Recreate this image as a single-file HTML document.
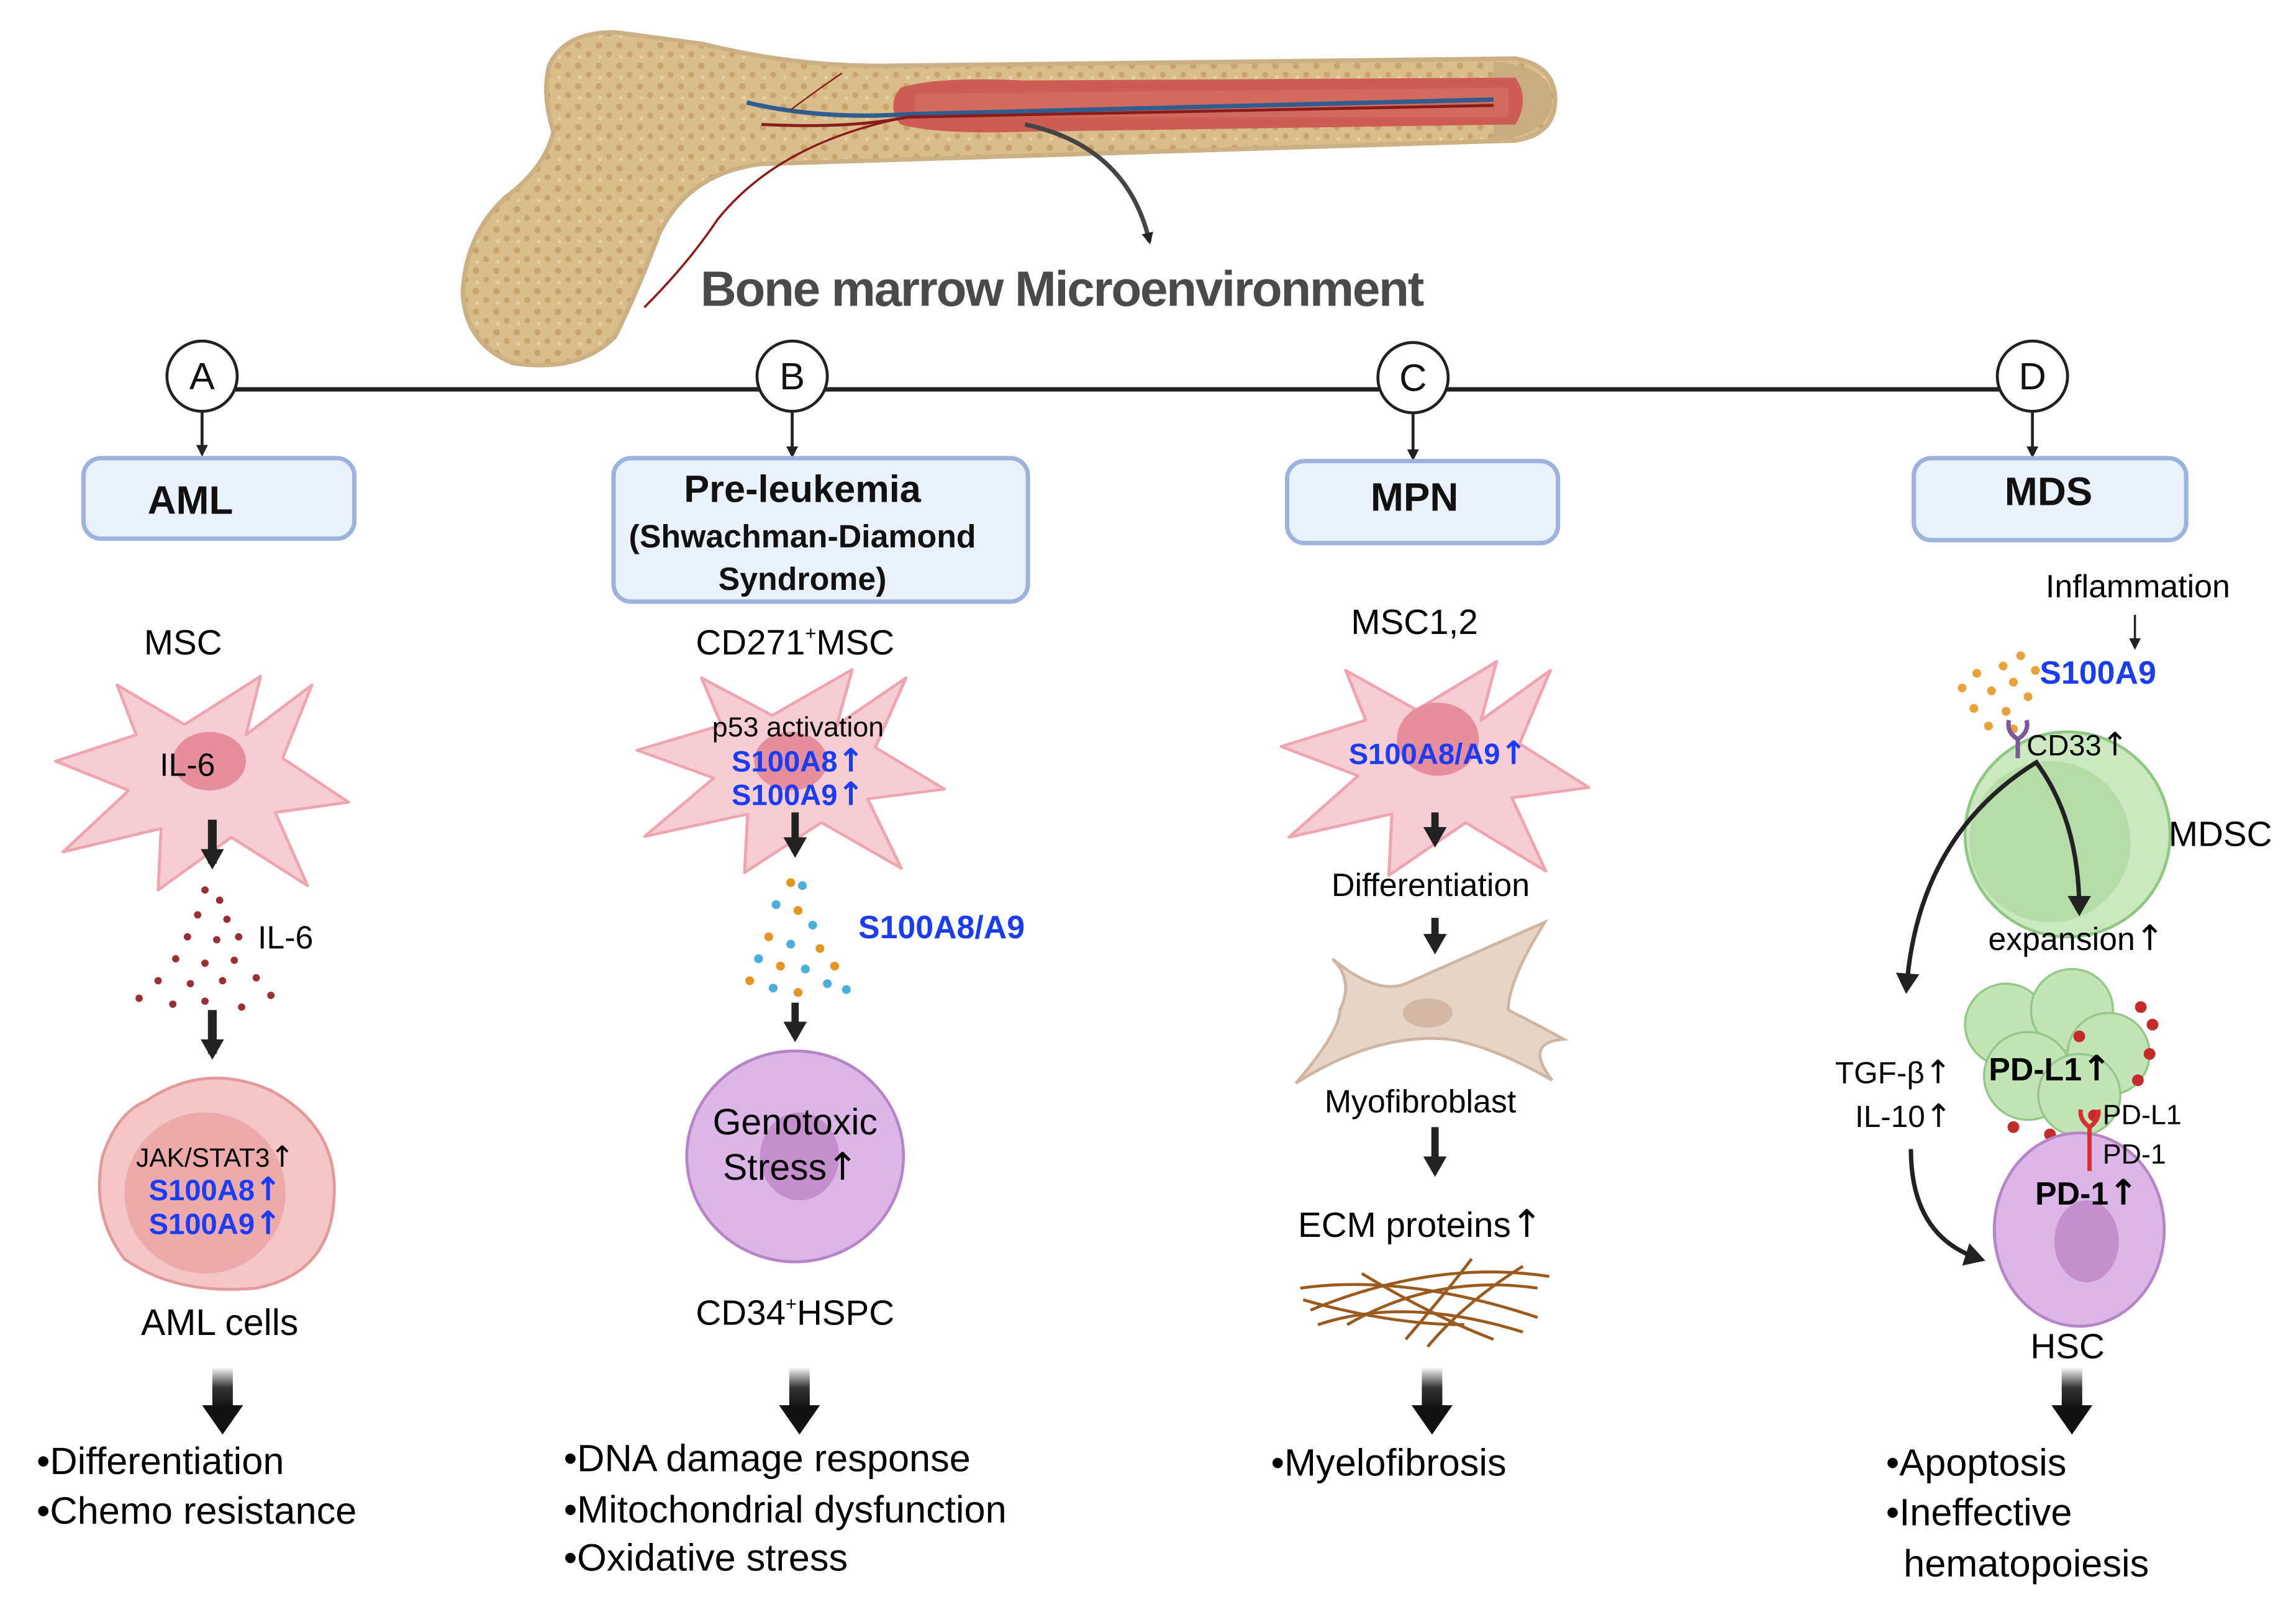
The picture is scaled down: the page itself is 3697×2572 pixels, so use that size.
<!DOCTYPE html>
<html><head><meta charset="utf-8"><style>
html,body{margin:0;padding:0;background:#fff;}
svg{display:block;}
text{font-family:"Liberation Sans",sans-serif;}
.u{font-family:"DejaVu Sans",sans-serif;}
</style></head><body>
<svg width="3697" height="2572" viewBox="0 0 1568 1091" preserveAspectRatio="none" xmlns="http://www.w3.org/2000/svg">
<defs>
<marker id="ah" markerWidth="8" markerHeight="8" refX="6" refY="4" orient="auto" markerUnits="userSpaceOnUse"><path d="M0,0 L8,4 L0,8 z" fill="#222"/></marker>
<marker id="ah2" markerWidth="16" markerHeight="16" refX="10" refY="8" orient="auto" markerUnits="userSpaceOnUse"><path d="M0,0 L14,8 L0,16 z" fill="#222"/></marker>
<linearGradient id="bg" x1="0" y1="0" x2="0" y2="1"><stop offset="0" stop-color="#fff"/><stop offset="0.5" stop-color="#333"/><stop offset="1" stop-color="#111"/></linearGradient>
<pattern id="tex" width="14" height="14" patternUnits="userSpaceOnUse"><rect width="14" height="14" fill="#d9bd8a"/><circle cx="3" cy="3" r="2.2" fill="#c9a26c"/><circle cx="10" cy="9" r="2" fill="#c9a26c"/><circle cx="4" cy="11" r="1.3" fill="#e6d0a6"/></pattern>
<g id="star"><path d="M-100,-10 L-45,-28 L-58,-62 L-12,-35 L40,-68 L30,-28 L75,-62 L55,-12 L100,18 L50,25 L72,75 L20,42 L-30,78 L-28,36 L-95,52 L-50,10 Z" fill="#f6cdd3" stroke="#eea5b0" stroke-width="2" stroke-linejoin="round"/></g>
<g id="big"><rect x="-7" y="0" width="14" height="28" fill="url(#bg)"/><path d="M-14,26 L14,26 L0,46 Z" fill="#111"/></g>
</defs>

<!-- Bone -->
<path d="M375,45 Q385,22 420,22 L480,30 Q540,45 600,45 L1035,40 Q1062,45 1062,68 Q1062,92 1035,96 L520,112 Q470,118 450,160 Q435,200 420,230 Q395,255 350,248 Q318,235 316,200 Q318,160 345,135 Q372,115 378,90 Q370,65 375,45 Z" fill="url(#tex)" stroke="#cbb083" stroke-width="3"/>
<path d="M1020,42 Q1060,45 1060,68 Q1060,92 1020,96 Z" fill="#c9ad80"/>
<path d="M615,60 Q640,52 700,55 L1035,53 Q1045,68 1035,85 L700,90 Q640,92 615,85 Q605,72 615,60 Z" fill="#cd5d52"/>
<path d="M625,64 L1030,60 L1030,80 L625,80 Z" fill="#d8776a" opacity="0.5"/>
<path d="M510,70 Q560,82 620,78 L1020,68" stroke="#2f5d8f" stroke-width="3" fill="none"/>
<path d="M520,85 Q580,88 620,80 L1020,72" stroke="#8b1a1a" stroke-width="2" fill="none"/>
<path d="M610,82 Q530,100 490,150 Q470,180 440,210" stroke="#8b1a1a" stroke-width="1.5" fill="none"/>
<path d="M540,75 Q560,60 575,50" stroke="#8b1a1a" stroke-width="1" fill="none"/>
<path d="M700,85 Q770,100 785,165" stroke="#444" stroke-width="3" fill="none" marker-end="url(#ah)"/>
<text x="725" y="209" font-size="34" font-weight="bold" fill="#4a4a4a" text-anchor="middle" letter-spacing="-1">Bone marrow Microenvironment</text>

<!-- timeline -->
<line x1="138" y1="266" x2="1388" y2="266" stroke="#222" stroke-width="3"/>
<g stroke="#222" stroke-width="2" fill="#fff">
<circle cx="138" cy="257" r="24"/><circle cx="541" cy="257" r="24"/><circle cx="965" cy="258" r="24"/><circle cx="1388" cy="257" r="24"/>
</g>
<g font-size="26" text-anchor="middle" fill="#111">
<text x="138" y="266">A</text><text x="541" y="266">B</text><text x="965" y="267">C</text><text x="1388" y="266">D</text>
</g>
<g stroke="#222" stroke-width="2" marker-end="url(#ah)">
<line x1="138" y1="281" x2="138" y2="310"/><line x1="541" y1="281" x2="541" y2="311"/><line x1="965" y1="282" x2="965" y2="313"/><line x1="1388" y1="281" x2="1388" y2="311"/>
</g>
<g fill="#e9f1fb" stroke="#9db3dd" stroke-width="3">
<rect x="57" y="313" width="185" height="55" rx="12"/>
<rect x="419" y="313" width="283" height="98" rx="12"/>
<rect x="879" y="315" width="185" height="56" rx="12"/>
<rect x="1307" y="313" width="186" height="56" rx="12"/>
</g>
<g font-weight="bold" text-anchor="middle" fill="#111">
<text x="130" y="351" font-size="27">AML</text>
<text x="548" y="343" font-size="26">Pre-leukemia</text>
<text x="548" y="374" font-size="22">(Shwachman-Diamond</text>
<text x="548" y="403" font-size="22">Syndrome)</text>
<text x="966" y="349" font-size="27">MPN</text>
<text x="1399" y="345" font-size="27">MDS</text>
</g>

<!-- Column A -->
<text x="125" y="447" font-size="24" text-anchor="middle">MSC</text>
<use href="#star" transform="translate(138,530)"/>
<ellipse cx="143" cy="520" rx="25" ry="20" fill="#e68e9b"/>
<text x="128" y="530" font-size="22" text-anchor="middle">IL-6</text>
<line x1="145" y1="560" x2="145" y2="590" stroke="#222" stroke-width="6" marker-end="url(#ah2)"/>
<g fill="#9b2f35">
<circle cx="140" cy="608" r="2.5"/><circle cx="150" cy="615" r="2.5"/><circle cx="135" cy="625" r="2.5"/><circle cx="155" cy="628" r="2.5"/><circle cx="128" cy="640" r="2.5"/><circle cx="148" cy="642" r="2.5"/><circle cx="163" cy="640" r="2.5"/><circle cx="120" cy="655" r="2.5"/><circle cx="140" cy="658" r="2.5"/><circle cx="160" cy="656" r="2.5"/><circle cx="108" cy="670" r="2.5"/><circle cx="130" cy="672" r="2.5"/><circle cx="152" cy="670" r="2.5"/><circle cx="175" cy="668" r="2.5"/><circle cx="95" cy="682" r="2.5"/><circle cx="118" cy="686" r="2.5"/><circle cx="140" cy="684" r="2.5"/><circle cx="165" cy="688" r="2.5"/><circle cx="185" cy="680" r="2.5"/>
</g>
<text x="176" y="648" font-size="22">IL-6</text>
<line x1="145" y1="690" x2="145" y2="720" stroke="#222" stroke-width="6" marker-end="url(#ah2)"/>
<path d="M100,752 Q140,725 185,745 Q232,770 228,820 Q225,870 175,880 Q120,885 85,860 Q62,830 70,790 Q80,760 100,752 Z" fill="#f5c6c6" stroke="#e39a9a" stroke-width="2"/>
<ellipse cx="140" cy="815" rx="55" ry="55" fill="#eba3a3" opacity="0.8"/>
<text x="147" y="797" font-size="18" text-anchor="middle">JAK/STAT3<tspan class="u" font-size="20">↑</tspan></text>
<text x="147" y="820" font-size="20" font-weight="bold" fill="#1a3cf5" text-anchor="middle">S100A8<tspan class="u" font-size="22">↑</tspan></text>
<text x="147" y="843" font-size="20" font-weight="bold" fill="#1a3cf5" text-anchor="middle">S100A9<tspan class="u" font-size="22">↑</tspan></text>
<text x="150" y="912" font-size="25" text-anchor="middle">AML cells</text>
<use href="#big" transform="translate(152,934)"/>
<text x="25" y="1007" font-size="26">•Differentiation</text>
<text x="25" y="1041" font-size="26">•Chemo resistance</text>

<!-- Column B -->
<text x="543" y="447" font-size="24" text-anchor="middle">CD271<tspan font-size="13" dy="-10">+</tspan><tspan dy="10">MSC</tspan></text>
<use href="#star" transform="translate(540,522) scale(1.05,0.95)"/>
<ellipse cx="540" cy="520" rx="25" ry="20" fill="#e68e9b"/>
<text x="545" y="503" font-size="19" text-anchor="middle">p53 activation</text>
<text x="545" y="527" font-size="20" font-weight="bold" fill="#1a3cf5" text-anchor="middle">S100A8<tspan class="u" font-size="22">↑</tspan></text>
<text x="545" y="550" font-size="20" font-weight="bold" fill="#1a3cf5" text-anchor="middle">S100A9<tspan class="u" font-size="22">↑</tspan></text>
<line x1="543" y1="555" x2="543" y2="582" stroke="#222" stroke-width="5" marker-end="url(#ah2)"/>
<g>
<circle cx="540" cy="603" r="3" fill="#e69520"/><circle cx="548" cy="605" r="3" fill="#4ab0d9"/><circle cx="530" cy="618" r="3" fill="#4ab0d9"/><circle cx="545" cy="622" r="3" fill="#e69520"/><circle cx="555" cy="632" r="3" fill="#4ab0d9"/><circle cx="525" cy="640" r="3" fill="#e69520"/><circle cx="540" cy="645" r="3" fill="#4ab0d9"/><circle cx="560" cy="648" r="3" fill="#e69520"/><circle cx="518" cy="655" r="3" fill="#4ab0d9"/><circle cx="533" cy="660" r="3" fill="#e69520"/><circle cx="550" cy="662" r="3" fill="#4ab0d9"/><circle cx="570" cy="660" r="3" fill="#e69520"/><circle cx="512" cy="670" r="3" fill="#e69520"/><circle cx="528" cy="675" r="3" fill="#4ab0d9"/><circle cx="545" cy="678" r="3" fill="#e69520"/><circle cx="565" cy="672" r="3" fill="#4ab0d9"/><circle cx="578" cy="676" r="3" fill="#4ab0d9"/>
</g>
<text x="643" y="641" font-size="22" font-weight="bold" fill="#1a3cf5" text-anchor="middle">S100A8/A9</text>
<line x1="543" y1="685" x2="543" y2="708" stroke="#222" stroke-width="5" marker-end="url(#ah2)"/>
<ellipse cx="543" cy="790" rx="74" ry="72" fill="#dcb6e6" stroke="#b784c7" stroke-width="2"/>
<ellipse cx="546" cy="790" rx="27" ry="30" fill="#c58fce"/>
<text x="543" y="775" font-size="25" text-anchor="middle">Genotoxic</text>
<text x="540" y="806" font-size="25" text-anchor="middle">Stress<tspan class="u" font-size="26">↑</tspan></text>
<text x="543" y="905" font-size="24" text-anchor="middle">CD34<tspan font-size="13" dy="-10">+</tspan><tspan dy="10">HSPC</tspan></text>
<use href="#big" transform="translate(546,934)"/>
<text x="385" y="1005" font-size="26">•DNA damage response</text>
<text x="385" y="1040" font-size="26">•Mitochondrial dysfunction</text>
<text x="385" y="1073" font-size="26">•Oxidative stress</text>

<!-- Column C -->
<text x="966" y="433" font-size="24" text-anchor="middle">MSC1,2</text>
<use href="#star" transform="translate(980,520) scale(1.05,1)"/>
<ellipse cx="982" cy="505" rx="28" ry="25" fill="#e68e9b"/>
<text x="982" y="522" font-size="20" font-weight="bold" fill="#1a3cf5" text-anchor="middle">S100A8/A9<tspan class="u" font-size="22">↑</tspan></text>
<line x1="980" y1="555" x2="980" y2="575" stroke="#222" stroke-width="5" marker-end="url(#ah2)"/>
<text x="977" y="612" font-size="22" text-anchor="middle">Differentiation</text>
<line x1="980" y1="627" x2="980" y2="648" stroke="#222" stroke-width="5" marker-end="url(#ah2)"/>
<path d="M910,655 Q940,680 960,672 Q1010,650 1055,630 Q1030,670 1030,690 Q1050,700 1068,710 Q1040,712 1060,738 Q1020,715 990,710 Q940,705 885,740 Q915,705 915,690 Q925,670 910,655 Z" fill="#e7d5c8" stroke="#cfb5a2" stroke-width="2"/>
<ellipse cx="975" cy="692" rx="17" ry="10" fill="#d4b8a6"/>
<text x="970" y="760" font-size="22" text-anchor="middle">Myofibroblast</text>
<line x1="980" y1="770" x2="980" y2="800" stroke="#222" stroke-width="5" marker-end="url(#ah2)"/>
<text x="970" y="845" font-size="24" text-anchor="middle">ECM proteins<tspan class="u" font-size="26">↑</tspan></text>
<g stroke="#9a5a1e" stroke-width="2" fill="none">
<path d="M888,880 Q960,870 1050,900"/><path d="M895,895 Q980,860 1058,872"/><path d="M900,905 Q960,885 1040,910"/><path d="M960,915 Q990,880 1005,860"/><path d="M930,870 Q980,900 1020,915"/><path d="M890,888 Q950,905 1000,905"/><path d="M920,905 Q980,870 1050,880"/><path d="M975,920 Q1000,890 1040,865"/>
</g>
<use href="#big" transform="translate(978,934)"/>
<text x="868" y="1008" font-size="26">•Myelofibrosis</text>

<!-- Column D -->
<text x="1460" y="408" font-size="22" text-anchor="middle">Inflammation</text>
<line x1="1458" y1="420" x2="1458" y2="442" stroke="#222" stroke-width="1.5" marker-end="url(#ah)"/>
<g fill="#e8a23a">
<circle cx="1380" cy="448" r="3"/><circle cx="1368" cy="455" r="3"/><circle cx="1390" cy="458" r="3"/><circle cx="1350" cy="460" r="3"/><circle cx="1375" cy="466" r="3"/><circle cx="1340" cy="470" r="3"/><circle cx="1360" cy="472" r="3"/><circle cx="1385" cy="476" r="3"/><circle cx="1348" cy="484" r="3"/><circle cx="1370" cy="486" r="3"/><circle cx="1358" cy="496" r="3"/><circle cx="1375" cy="498" r="3"/>
</g>
<text x="1393" y="467" font-size="22" font-weight="bold" fill="#1a3cf5">S100A9</text>
<circle cx="1412" cy="570" r="70" fill="#cbe8c0" stroke="#8fc882" stroke-width="2"/>
<ellipse cx="1400" cy="575" rx="55" ry="55" fill="#b6dca8"/>
<path d="M1378,518 L1378,505 M1378,505 Q1370,500 1372,492 M1378,505 Q1386,500 1384,492" stroke="#7a5a9a" stroke-width="3" fill="none"/>
<text x="1384" y="516" font-size="20">CD33<tspan class="u" font-size="22">↑</tspan></text>
<text x="1481" y="578" font-size="24">MDSC</text>
<path d="M1392,520 Q1310,570 1302,675" stroke="#222" stroke-width="3" fill="none" marker-end="url(#ah2)"/>
<path d="M1390,520 Q1420,560 1420,622" stroke="#222" stroke-width="3" fill="none" marker-end="url(#ah2)"/>
<text x="1418" y="649" font-size="22" text-anchor="middle">expansion<tspan class="u" font-size="24">↑</tspan></text>
<g fill="#c3e4b7" stroke="#94c887" stroke-width="1.5">
<circle cx="1370" cy="700" r="28"/><circle cx="1415" cy="690" r="28"/><circle cx="1440" cy="720" r="28"/><circle cx="1385" cy="735" r="30"/><circle cx="1420" cy="748" r="28"/>
</g>
<g fill="#c42a2a">
<circle cx="1462" cy="688" r="4"/><circle cx="1470" cy="700" r="4"/><circle cx="1468" cy="720" r="4"/><circle cx="1460" cy="738" r="4"/><circle cx="1420" cy="708" r="4"/><circle cx="1375" cy="770" r="4"/><circle cx="1400" cy="775" r="4"/><circle cx="1430" cy="762" r="4"/>
</g>
<text x="1400" y="738" font-size="22" font-weight="bold" text-anchor="middle">PD-L1<tspan class="u" font-size="24">↑</tspan></text>
<text x="1293" y="740" font-size="21" text-anchor="middle">TGF-β<tspan class="u" font-size="22">↑</tspan></text>
<text x="1300" y="770" font-size="21" text-anchor="middle">IL-10<tspan class="u" font-size="22">↑</tspan></text>
<ellipse cx="1420" cy="840" rx="58" ry="66" fill="#dcb6e6" stroke="#b784c7" stroke-width="2"/>
<ellipse cx="1425" cy="848" rx="22" ry="28" fill="#c58fce"/>
<path d="M1427,800 L1427,770 M1427,770 Q1420,765 1421,758 M1427,770 Q1434,765 1433,758" stroke="#d63030" stroke-width="3" fill="none"/>
<text x="1436" y="768" font-size="19">PD-L1</text>
<text x="1436" y="795" font-size="19">PD-1</text>
<text x="1425" y="823" font-size="22" font-weight="bold" text-anchor="middle">PD-1<tspan class="u" font-size="24">↑</tspan></text>
<path d="M1305,785 Q1305,845 1352,860" stroke="#222" stroke-width="3" fill="none" marker-end="url(#ah2)"/>
<text x="1412" y="928" font-size="24" text-anchor="middle">HSC</text>
<use href="#big" transform="translate(1415,934)"/>
<text x="1288" y="1008" font-size="26">•Apoptosis</text>
<text x="1288" y="1042" font-size="26">•Ineffective</text>
<text x="1300" y="1077" font-size="26">hematopoiesis</text>
</svg>
</body></html>
